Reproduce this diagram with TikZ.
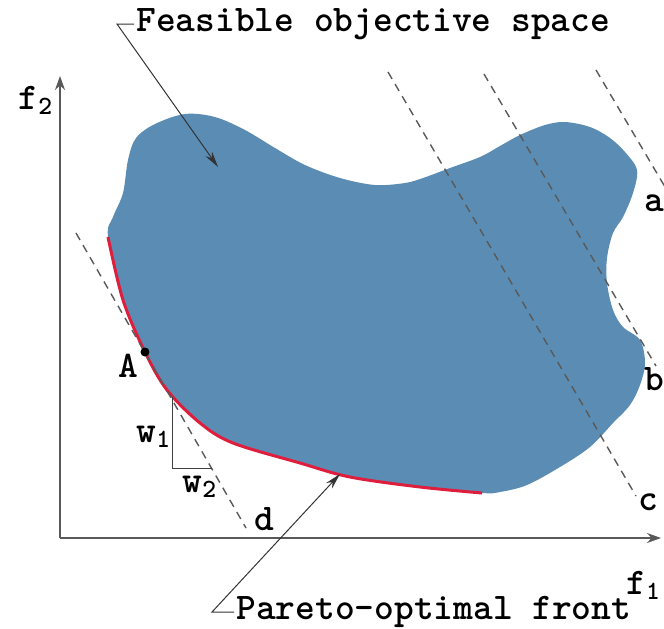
\documentclass[tikz,border=0pt]{standalone}
\usepackage{fontspec}
\usetikzlibrary{arrows.meta}
\definecolor{feasblue}{RGB}{91,141,180}
\definecolor{frontred}{RGB}{222,30,60}

\tikzset{
  axis/.style={-{Stealth[length=7pt,width=5pt]}, gray!70!black, line width=0.8pt},
  leader/.style={-{Stealth[length=8pt,width=4pt]}, black!80, line width=0.5pt},
  isoline/.style={dashed, dash pattern=on 4pt off 3pt, black!65, line width=0.7pt},
  lbl/.style={inner sep=1pt, font=\ttfamily\bfseries\fontsize{18.8}{20}\selectfont}
}

\begin{document}
\begin{tikzpicture}[x=0.5pt, y=-0.5pt]

            \useasboundingbox (0,0) rectangle (664,628);

            % Feasible region
            \fill[feasblue] plot[smooth cycle, tension=0.55] coordinates {
              (108,237) (113,217) (123,193) (128,160) (136,138) (155,124)
              (185,114) (215,117) (245,130) (275,148) (305,165) (340,178)
              (375,185) (405,183) (423,178) (450,168) (480,157) (500,146)
              (520,135) (545,125) (565,122) (590,127) (610,138) (625,152)
              (637,170) (633,193) (623,217) (613,233) (607,258) (607,283)
              (613,310) (623,327) (640,340) (645,363) (640,385) (630,405)
              (613,423) (590,447) (560,467) (527,485) (500,492) (482,493)
              (420,487) (350,477) (300,463) (233,443) (200,423) (167,390)
              (145,352) (123,300)};

            % Pareto-optimal front
            \draw[frontred, line width=1.5pt] plot[smooth, tension=0.55] coordinates {
              (108,237) (123,300) (145,352) (167,390) (200,423) (233,443)
              (300,463) (350,477) (420,487) (482,493)};

            % Weighted-sum lines
            \coordinate (da) at (76,233);  \coordinate (db) at (246,528);
            \coordinate (ca) at (388,72);  \coordinate (cb) at (636,496);
            \coordinate (ba) at (484,74);  \coordinate (bb) at (656,366);
            \coordinate (aa) at (596,70);  \coordinate (ab) at (668,192);
            \draw[isoline] (da) -- (db);
            \draw[isoline] (ca) -- (cb);
            \draw[isoline] (ba) -- (bb);
            \draw[isoline] (aa) -- (ab);

            % Axes
            \coordinate (O) at (60,538);
            \coordinate (ytip) at (60,76);
            \coordinate (xtip) at (661,538);
            \draw[axis] (O) -- (ytip);
            \draw[axis] (O) -- (xtip);
            \node[lbl] (ftwo) at (36,100) {f\textsubscript{2}};
            \node[lbl, anchor=west] (fone) at (624,585) {f\textsubscript{1}};

            % Slope triangle
            \coordinate (wtop) at (172,397);
            \coordinate (wcorner) at (172,468);
            \coordinate (wright) at (212,468);
            \draw[black!75, line width=0.5pt] (wtop) -- (wcorner) -- (wright);
            \node[lbl] (wone) at (154,437) {w\textsubscript{1}};
            \node[lbl] (wtwo) at (200,487) {w\textsubscript{2}};

            % Point A
            \fill[black] (145,352) circle (4.5);
            \node[lbl] (Alabel) at (128,366) {A};

            % Line labels
            \node[lbl] (dlabel) at (264,519) {d};
            \node[lbl] (clabel) at (648,502) {c};
            \node[lbl] (blabel) at (654,379) {b};
            \node[lbl] (alabel) at (654,203) {a};

            % Callouts
            \node[lbl, anchor=west] (feas) at (134,24) {Feasible objective space};
            \coordinate (fcorner) at (117,24);
            \coordinate (ftip) at (218,167);
            \draw[leader] (feas.west) -- (fcorner) -- (ftip);

            \node[lbl, anchor=west] (pareto) at (234,612) {Pareto-optimal front};
            \coordinate (pcorner) at (212,612);
            \coordinate (ptip) at (340,474);
            \draw[leader] (pareto.west) -- (pcorner) -- (ptip);

        \end{tikzpicture}
\end{document}
